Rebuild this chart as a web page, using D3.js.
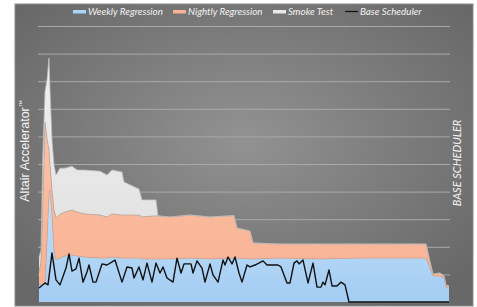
<!DOCTYPE html>
<html>
<head>
<meta charset="utf-8">
<script src="https://cdn.jsdelivr.net/npm/d3@7"></script>
<style>
  body { margin: 0; background: #fff; }
  svg { display: block; }
</style>
</head>
<body>
<svg id="chart" width="477" height="307"></svg>
<script>
// series names
var seriesNames = ["Weekly Regression", "Nightly Regression", "Smoke Test", "Base Scheduler"];

// sample positions for the stacked areas
var areaT = [0, 2, 4, 6, 8, 10, 11, 13, 15, 17, 21, 26, 33, 38, 46, 61, 68, 73, 83, 85, 96, 100, 103, 115, 117, 119,
             131, 151, 171, 195, 198, 211, 214, 241, 281, 321, 361, 387, 391, 394, 401, 405, 407, 410];
var weekly = [6.5, 6.5, 6.5, 6.5, 22.5, 38.8, 40.6, 31.5, 18.8, 15.2, 15.9, 16.7, 17.0, 16.7, 16.3, 15.9, 15.9, 16.3, 15.9, 15.9,
              15.9, 15.9, 15.6, 15.6, 15.6, 15.6,
              15.6, 15.9, 15.6, 15.9, 15.9, 15.6, 15.6, 15.9, 15.6, 15.9, 15.9, 15.9, 12.3, 9.4, 9.4, 8.7, 5.4, 5.1];
var nightly = [4.3, 8.0, 30.4, 58.7, 36.6, 16.3, 9.1, 9.1, 14.5, 15.2, 15.9, 15.9, 16.3, 15.9, 15.6, 15.6, 14.9, 15.6, 15.6, 15.6,
               15.6, 15.6, 15.2, 15.6, 15.6, 15.6,
               15.2, 15.6, 15.2, 15.4, 10.9, 10.1, 5.8, 5.1, 5.4, 5.1, 5.1, 5.1, 2.2, 0.7, 1.1, 0.7, 0.7, 0.7];
var smoke = [5.4, 4.3, 18.1, 10.9, 21.4, 33.3, 27.2, 18.1, 16.3, 15.6, 16.7, 15.9, 15.9, 15.2, 15.9, 15.9, 15.2, 15.9, 15.6, 12.0,
             10.1, 9.4, 6.2, 5.8, 5.8, 0,
             0, 0, 0, 0, 0, 0, 0, 0, 0, 0, 0, 0, 0, 0, 0, 0, 0, 0];

// base scheduler line
var lineT = [0, 6, 9, 13, 17, 21, 27, 30, 33, 37, 40, 44, 48, 50, 54, 57, 63, 68, 76, 83, 88, 93, 95, 100, 104,
             108, 113, 117, 121, 124, 128, 134, 138, 142, 145, 152, 154, 158, 163, 166, 171, 174, 179, 184, 186, 189,
             193, 196, 200, 203, 208, 211, 216, 224, 228, 239, 242, 248, 251, 255, 258, 260, 264, 269, 274, 278, 282,
             284, 286, 290, 293, 298, 302, 306, 310, 410];
var baseSched = [5.1, 6.9, 6.2, 17.8, 8.0, 6.2, 12.3, 17.4, 11.2, 12.0, 15.9, 7.2, 10.9, 13.4, 7.2, 7.2, 13.8, 13.4, 15.2, 7.2,
                 12.7, 12.3, 8.7, 12.7, 8.0, 14.1, 7.2, 14.1, 10.5, 12.7, 8.7, 7.2, 15.9, 10.5, 13.8, 13.8, 10.5, 14.9,
                 12.3, 7.2, 13.8, 9.8, 7.2, 15.2, 13.4, 16.3, 13.8, 16.3, 10.5, 7.2, 13.4, 12.7, 13.4, 14.9, 13.4, 13.4,
                 12.7, 6.9, 6.9, 14.1, 14.9, 13.8, 15.2, 6.9, 14.1, 5.4, 5.4, 7.2, 6.2, 11.6, 5.8, 5.8, 7.2, 6.2, 0, 0];

var yTicks = [0, 10, 20, 30, 40, 50, 60, 70, 80, 90, 100];

var svg = d3.select("#chart");
var defs = svg.append("defs");

// panel background
var bg = defs.append("radialGradient").attr("id", "bg")
    .attr("cx", "50%").attr("cy", "45%").attr("r", "65%");
bg.append("stop").attr("offset", "0%").attr("stop-color", "#929292");
bg.append("stop").attr("offset", "100%").attr("stop-color", "#686868");

var gBlue = defs.append("linearGradient").attr("id", "gBlue").attr("x1", 0).attr("y1", 0).attr("x2", 0).attr("y2", 1);
gBlue.append("stop").attr("offset", "0%").attr("stop-color", "#c4e0f9");
gBlue.append("stop").attr("offset", "100%").attr("stop-color", "#a3cdf3");
var gOrange = defs.append("linearGradient").attr("id", "gOrange").attr("x1", 0).attr("y1", 0).attr("x2", 0).attr("y2", 1);
gOrange.append("stop").attr("offset", "0%").attr("stop-color", "#fcc3a6");
gOrange.append("stop").attr("offset", "100%").attr("stop-color", "#f8b193");
var gGrey = defs.append("linearGradient").attr("id", "gGrey").attr("x1", 0).attr("y1", 0).attr("x2", 0).attr("y2", 1);
gGrey.append("stop").attr("offset", "0%").attr("stop-color", "#f0f0f0");
gGrey.append("stop").attr("offset", "100%").attr("stop-color", "#dedede");

svg.append("rect")
    .attr("x", 15).attr("y", 4).attr("width", 458).attr("height", 302)
    .attr("fill", "url(#bg)")
    .attr("stroke", "#8a8a8a").attr("stroke-width", 1);

var x = d3.scaleLinear().domain([0, 410]).range([39, 449]);
var y = d3.scaleLinear().domain([0, 100]).range([302, 26]);

// gridlines
svg.append("g")
    .attr("transform", "translate(38,0)")
    .call(d3.axisLeft(y).tickValues(yTicks.slice(1)).tickSize(-412).tickFormat(""))
    .call(function(g) { g.select(".domain").remove(); })
    .selectAll("line")
    .attr("stroke", "#a9a9a9")
    .attr("stroke-width", 1);

// stacked areas
var rows = areaT.map(function(t, i) {
    return { t: t, weekly: weekly[i], nightly: nightly[i], smoke: smoke[i] };
});
var stack = d3.stack().keys(["weekly", "nightly", "smoke"]);
var layers = stack(rows);
var fills = ["url(#gBlue)", "url(#gOrange)", "url(#gGrey)"];
var strokes = ["#d9a58f", "#b9a9a0", "#bdbdbd"];

var area = d3.area()
    .x(function(d) { return x(d.data.t); })
    .y0(function(d) { return y(d[0]); })
    .y1(function(d) { return y(d[1]); });
var topLine = d3.line()
    .x(function(d) { return x(d.data.t); })
    .y(function(d) { return y(d[1]); });

// draw top layer first so lower layers cover it
for (var i = layers.length - 1; i >= 0; i--) {
    svg.append("path").datum(layers[i])
        .attr("d", area)
        .attr("fill", fills[i]);
}
for (var i = 0; i < layers.length; i++) {
    svg.append("path").datum(layers[i])
        .attr("d", topLine)
        .attr("fill", "none")
        .attr("stroke", strokes[i])
        .attr("stroke-width", 0.8);
}

// base line of plot
svg.append("line")
    .attr("x1", 38).attr("x2", 450)
    .attr("y1", y(0) + 1).attr("y2", y(0) + 1)
    .attr("stroke", "#6f6f6f").attr("stroke-width", 2);

// base scheduler line
var lineData = lineT.map(function(t, i) { return { t: t, v: baseSched[i] }; });
svg.append("path").datum(lineData)
    .attr("d", d3.line().x(function(d) { return x(d.t); }).y(function(d) { return y(d.v); }))
    .attr("fill", "none")
    .attr("stroke", "#111")
    .attr("stroke-width", 1.4)
    .attr("stroke-linejoin", "round");

// legend
var legendX = [73, 173, 273, 345];
var legendFill = ["#a9d3f7", "#f9b294", "#e8e8e8"];
var legend = svg.append("g");
seriesNames.forEach(function(name, i) {
    if (i < 3) {
        legend.append("rect")
            .attr("x", legendX[i]).attr("y", 10)
            .attr("width", 13).attr("height", 3.5)
            .attr("fill", legendFill[i]);
    } else {
        legend.append("line")
            .attr("x1", legendX[i]).attr("x2", legendX[i] + 13)
            .attr("y1", 11.5).attr("y2", 11.5)
            .attr("stroke", "#111").attr("stroke-width", 1.2);
    }
    legend.append("text")
        .attr("x", legendX[i] + 15).attr("y", 15)
        .attr("font-family", "Lato, sans-serif")
        .attr("font-style", "italic")
        .attr("font-size", 9.8)
        .attr("fill", "#f2f2f2")
        .text(name);
});

// axis titles
var yTitle = svg.append("text")
    .attr("transform", "translate(29,151) rotate(-90)")
    .attr("text-anchor", "middle")
    .attr("font-family", "Liberation Sans, Arial, sans-serif")
    .attr("font-size", 12.5)
    .attr("fill", "#f4f4f4");
yTitle.append("tspan").text("Altair Accelerator");
yTitle.append("tspan").attr("font-size", 7).attr("dy", -5).text("\u2122");

svg.append("text")
    .attr("transform", "translate(461,163) rotate(-90)")
    .attr("text-anchor", "middle")
    .attr("font-family", "Lato, sans-serif")
    .attr("font-style", "italic")
    .attr("font-size", 11)
    .attr("fill", "#f4f4f4")
    .text("BASE SCHEDULER");
</script>
</body>
</html>
